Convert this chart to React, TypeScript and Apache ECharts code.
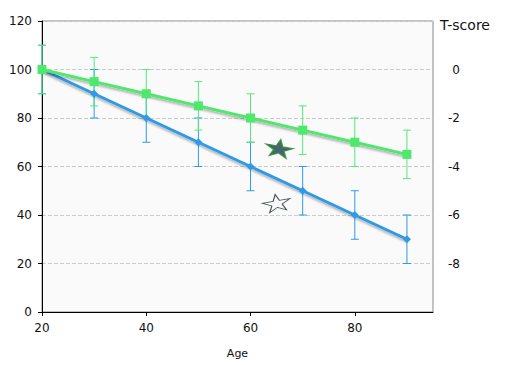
import React, { useEffect, useRef } from "react";
import * as echarts from "echarts";

const ages = [20, 30, 40, 50, 60, 70, 80, 90];
const blueValues = [100, 90, 80, 70, 60, 50, 40, 30];
const blueErr = [10, 10, 10, 10, 10, 10, 10, 10];
const greenValues = [100, 95, 90, 85, 80, 75, 70, 65];
const greenErr = [10, 10, 10, 10, 10, 10, 10, 10];
const starFilled = [[65.5, 67.5]];
const starOutline = [[65, 45]];
const xTicks = [20, 40, 60, 80];

const BLUE = "#2f9ae6";
const GREEN = "#4ee86c";
const STAR =
  "path://M50,0 L61,35 L98,35 L68,57 L79,91 L50,70 L21,91 L32,57 L2,35 L39,35 Z";

function errorSeries(values: number[], errs: number[], color: string) {
  const data = ages.map((a, i) => [a, values[i], values[i] - errs[i], values[i] + errs[i]]);
  return {
    type: "custom",
    z: 1,
    data,
    encode: { x: 0, y: 1 },
    renderItem: (params: any, api: any) => {
      const x = api.value(0);
      const lo = api.coord([x, api.value(2)]);
      const hi = api.coord([x, api.value(3)]);
      const w = 4;
      const style = { stroke: color, lineWidth: 1 };
      return {
        type: "group",
        children: [
          { type: "line", shape: { x1: lo[0], y1: lo[1], x2: hi[0], y2: hi[1] }, style },
          { type: "line", shape: { x1: lo[0] - w, y1: lo[1], x2: lo[0] + w, y2: lo[1] }, style },
          { type: "line", shape: { x1: hi[0] - w, y1: hi[1], x2: hi[0] + w, y2: hi[1] }, style },
        ],
      };
    },
  };
}

export default function App() {
  const ref = useRef<HTMLDivElement>(null);
  useEffect(() => {
    const chart = echarts.init(ref.current!, null, { renderer: "svg" });
    const font = "DejaVu Sans";
    chart.setOption({
      animation: false,
      textStyle: { fontFamily: font },
      grid: {
        left: 42,
        top: 21,
        right: 93,
        bottom: 53,
        show: true,
        backgroundColor: "#fafafa",
        borderColor: "#888",
        borderWidth: 1,
      },
      graphic: [
        {
          type: "text",
          left: 440,
          top: 18,
          style: { text: "T-score", fontSize: 14, fill: "#111", fontFamily: font },
        },
      ],
      xAxis: {
        type: "value",
        min: 20,
        max: 95,
        interval: 20,
        name: "Age",
        nameLocation: "middle",
        nameGap: 36,
        nameTextStyle: { fontSize: 11, color: "#111", fontFamily: font },
        axisLine: { show: true, lineStyle: { color: "#000", width: 1 } },
        axisTick: { show: true, length: 4, lineStyle: { color: "#000" }, customValues: xTicks },
        axisLabel: { fontSize: 12, color: "#111", margin: 10, customValues: xTicks },
        splitLine: { show: false },
      },
      yAxis: [
        {
          type: "value",
          min: 0,
          max: 120,
          interval: 20,
          axisLine: { show: true, lineStyle: { color: "#000", width: 1 } },
          axisTick: { show: true, length: 4, lineStyle: { color: "#000" } },
          axisLabel: { fontSize: 12, color: "#111", margin: 10 },
          splitLine: { show: true, lineStyle: { type: "dashed", color: "#ccc" } },
        },
        {
          type: "value",
          min: -10,
          max: 2,
          interval: 2,
          position: "right",
          axisLine: { show: false },
          axisTick: { show: false },
          axisLabel: {
            fontSize: 12,
            color: "#111",
            margin: 27,
            align: "right",
            padding: [0, 0, 6, 0],
            showMinLabel: false,
            showMaxLabel: false,
          },
          splitLine: { show: false },
        },
      ],
      series: [
        errorSeries(blueValues, blueErr, BLUE),
        errorSeries(greenValues, greenErr, "#55e878"),
        {
          type: "line",
          z: 3,
          data: ages.map((a, i) => [a, blueValues[i]]),
          symbol: "diamond",
          symbolSize: 8,
          itemStyle: { color: BLUE },
          lineStyle: {
            color: BLUE,
            width: 3,
            shadowColor: "rgba(0,0,0,0.3)",
            shadowOffsetY: 2,
            shadowBlur: 2,
          },
        },
        {
          type: "line",
          z: 4,
          data: ages.map((a, i) => [a, greenValues[i]]),
          symbol: "rect",
          symbolSize: 9,
          itemStyle: { color: GREEN },
          lineStyle: {
            color: GREEN,
            width: 3,
            shadowColor: "rgba(0,0,0,0.3)",
            shadowOffsetY: 2,
            shadowBlur: 2,
          },
        },
        {
          type: "scatter",
          z: 5,
          data: starFilled,
          symbol: STAR,
          symbolSize: [27, 17],
          symbolKeepAspect: false,
          symbolRotate: -10,
          itemStyle: { color: "#17404f", borderColor: "#2a8a2a", borderWidth: 1.5 },
        },
        {
          type: "scatter",
          z: 5,
          data: starOutline,
          symbol: STAR,
          symbolSize: [28, 17],
          symbolKeepAspect: false,
          symbolRotate: 10,
          itemStyle: { color: "rgba(255,255,255,0)", borderColor: "#1a2a30", borderWidth: 1 },
        },
      ],
    });
    return () => chart.dispose();
  }, []);
  return (
    <div
      ref={ref}
      style={{ position: "absolute", left: 0, top: 0, width: 526, height: 365 }}
    />
  );
}
